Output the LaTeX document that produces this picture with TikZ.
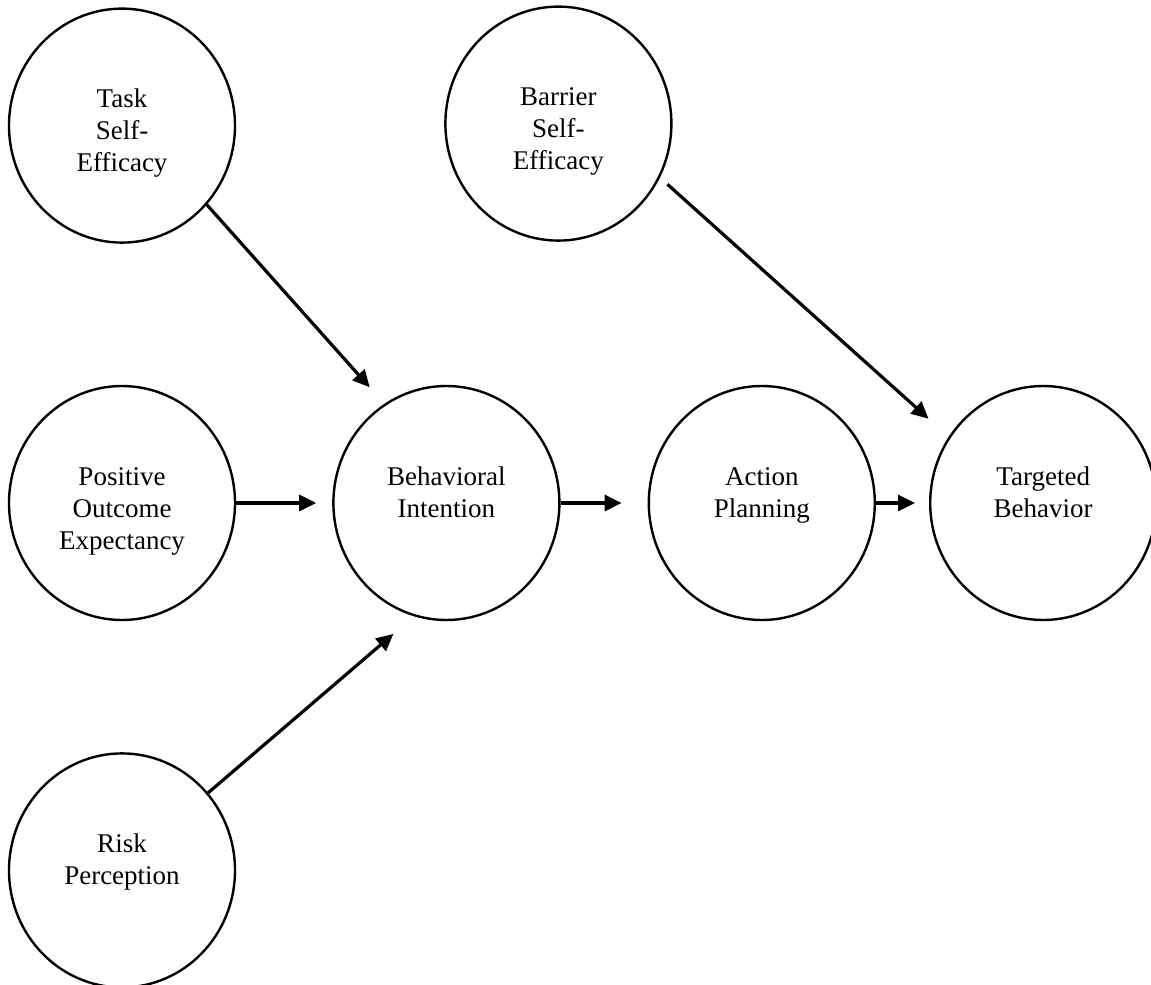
\documentclass[tikz,border=0pt]{standalone}
\usepackage{fontspec}
\setmainfont{Liberation Serif}
\usetikzlibrary{arrows.meta,positioning,shapes.geometric}
% first line sits a little above the centre, as in the original
\newcommand{\ctext}[1]{\raisebox{0pt}[0pt][18pt]{\begin{tabular}[t]{@{}c@{}}#1\end{tabular}}}
\tikzset{
  construct/.style={ellipse, draw=black, line width=1.2pt, fill=white,
                    minimum width=113pt, minimum height=117pt, inner sep=0pt,
                    font=\fontsize{13.5}{16}\selectfont},
  link/.style={-{Triangle[length=8.5pt,width=8pt]}, line width=1.6pt, draw=black},
}
\begin{document}
\begin{tikzpicture}
  \useasboundingbox (0,0) rectangle (575.5pt,-492.5pt);
  \node[construct] (positive) at (61pt,-251.5pt) {\ctext{Positive\\Outcome\\Expectancy}};
  \node[construct,right=48pt of positive] (intention) {\ctext{Behavioral\\Intention}};
  \node[construct,right=43.5pt of intention] (planning) {\ctext{Action\\Planning}};
  \node[construct,right=26.5pt of planning] (behavior) {\ctext{Targeted\\Behavior}};
  \node[construct,above=70.5pt of positive] (taskse) {\ctext{Task\\Self-\\Efficacy}};
  \node[construct,below=65.5pt of positive] (risk) {\ctext{Risk\\Perception}};
  \node[construct,above=71.5pt of intention,xshift=56pt] (barrierse) {\ctext{Barrier\\Self-\\Efficacy}};
  % main chain
  \draw[link,shorten >=8pt] (positive) -- (intention);
  \draw[link,shorten >=13pt] (intention) -- (planning);
  \draw[link,shorten >=7pt] (planning) -- (behavior);
  % diagonal paths
  \draw[link,shorten >=11pt] (taskse.-43) -- (intention.122);
  \draw[link,shorten >=13.5pt] (risk.42) -- (intention.-106);
  \draw[link,shorten <=5pt,shorten >=13.5pt] (barrierse.-28) -- (behavior.145);
\end{tikzpicture}
\end{document}
